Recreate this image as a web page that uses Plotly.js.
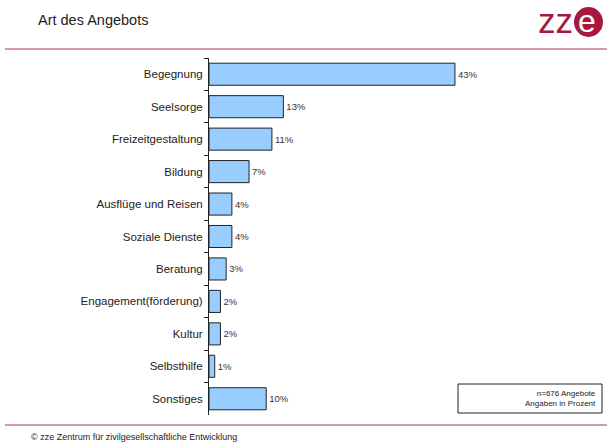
<!DOCTYPE html>
<html>
<head>
<meta charset="utf-8">
<script src="https://cdn.plot.ly/plotly-3.0.1.min.js"></script>
<style>html,body{margin:0;padding:0;background:#fff;}#chart{width:612px;height:448px;}</style>
</head>
<body>
<div id="chart"></div>
<script>
const categories = ["Begegnung","Seelsorge","Freizeitgestaltung","Bildung","Ausflüge und Reisen","Soziale Dienste","Beratung","Engagement(förderung)","Kultur","Selbsthilfe","Sonstiges"];
const values = [43, 13, 11, 7, 4, 4, 3, 2, 2, 1, 10];
const valueLabels = values.map(v => v + "%");

const red = "#a8173e";
const data = [{
  type: "bar",
  orientation: "h",
  y: categories,
  x: values,
  text: valueLabels,
  textposition: "outside",
  textfont: {family: "Liberation Sans, Arial, sans-serif", size: 9.5, color: "#333"},
  cliponaxis: false,
  marker: {color: "#99ccff", line: {color: "#222", width: 1}},
  hoverinfo: "none"
}];

const layout = {
  width: 612, height: 448,
  margin: {l: 209, r: 117, t: 58, b: 33},
  paper_bgcolor: "#fff", plot_bgcolor: "#fff",
  showlegend: false,
  bargap: 0.32,
  font: {family: "Liberation Sans, Arial, sans-serif", size: 9, color: "#222"},
  xaxis: {range: [0, 50], visible: false, fixedrange: true},
  yaxis: {
    type: "category", autorange: "reversed",
    showline: true, linecolor: "#222", linewidth: 1,
    ticks: "outside", tickson: "boundaries", ticklen: 4, tickcolor: "#222",
    showgrid: false, zeroline: false,
    tickfont: {size: 11.5, color: "#222"}, ticklabelstandoff: 3
  },
  shapes: [
    {type: "line", xref: "paper", yref: "paper", x0: -204/286, x1: 398/286, y0: 1 + 9/357, y1: 1 + 9/357, line: {color: "#a83050", width: 1.2}},
    {type: "line", xref: "paper", yref: "paper", x0: -204/286, x1: 398/286, y0: -10/357, y1: -10/357, line: {color: "#a83050", width: 1.2}},
    {type: "rect", xref: "paper", yref: "paper", x0: 249/286, x1: 393/286, y0: (415-413)/357, y1: (415-384)/357, line: {color: "#222", width: 1}, fillcolor: "#fff"},
    {type: "circle", xref: "paper", yref: "paper", x0: (574-209)/286, x1: (603-209)/286, y0: (415-7)/357, y1: (415-37)/357, line: {width: 0}, fillcolor: red}
  ],
  annotations: [
    {text: "Art des Angebots", xref: "paper", yref: "paper", x: -173/286, y: (415-20)/357, xanchor: "left", yanchor: "middle", showarrow: false, font: {size: 14.5, color: "#222"}},
    {text: "zz", xref: "paper", yref: "paper", x: (536-209)/286, y: (415-21)/357, xanchor: "left", yanchor: "middle", showarrow: false, font: {size: 35, color: red, family: "Liberation Sans, Arial, sans-serif"}},
    {text: "e", xref: "paper", yref: "paper", x: (587-209)/286, y: (415-21)/357, xanchor: "center", yanchor: "middle", showarrow: false, font: {size: 32, color: "#fff", family: "Liberation Sans, Arial, sans-serif"}},
    {text: "n=676 Angebote<br>Angaben in Prozent", xref: "paper", yref: "paper", x: 389/286, y: (415-398.5)/357, xanchor: "right", yanchor: "middle", align: "right", showarrow: false, font: {size: 8, color: "#222"}},
    {text: "© zze Zentrum für zivilgesellschaftliche Entwicklung", xref: "paper", yref: "paper", x: -180/286, y: (415-437)/357, xanchor: "left", yanchor: "middle", showarrow: false, font: {size: 9, color: "#222"}}
  ]
};

Plotly.newPlot("chart", data, layout, {displayModeBar: false, staticPlot: true});
</script>
</body>
</html>
